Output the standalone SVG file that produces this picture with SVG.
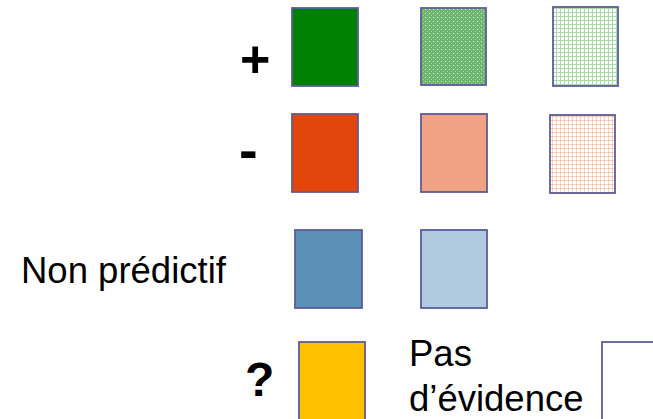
<svg xmlns="http://www.w3.org/2000/svg" width="653" height="419" viewBox="0 0 653 419">
<style>
.box{stroke:#5c5c96;stroke-width:1.8}
.lbl{font-family:"Liberation Sans",Arial,sans-serif;font-size:36.5px;fill:#000}
.sym{font-family:"Liberation Sans",Arial,sans-serif;font-weight:bold;fill:#000}
</style>
<defs>
<pattern id="gdots" width="4" height="4" patternUnits="userSpaceOnUse">
<rect width="4" height="4" fill="#6db66d"/>
<rect x="1" y="1" width="1" height="1" fill="#e6f4e6"/>
<rect x="3" y="3" width="1" height="1" fill="#a6d6a6"/>
</pattern>
<pattern id="ggrid" width="4" height="4" patternUnits="userSpaceOnUse">
<rect width="4" height="4" fill="#ffffff"/>
<rect x="0" y="0" width="4" height="1" fill="#a9d9a9"/>
<rect x="0" y="0" width="1" height="4" fill="#a9d9a9"/>
</pattern>
<pattern id="omed" width="2" height="2" patternUnits="userSpaceOnUse">
<rect width="2" height="2" fill="#ee9c7d"/>
<rect width="1" height="1" fill="#f2a88b"/>
<rect x="1" y="1" width="1" height="1" fill="#f2a88b"/>
</pattern>
<pattern id="ogrid" width="4" height="4" patternUnits="userSpaceOnUse">
<rect width="4" height="4" fill="#ffffff"/>
<rect x="0" y="0" width="4" height="1" fill="#fad3c2"/>
<rect x="0" y="0" width="1" height="4" fill="#fad3c2"/>
<rect x="0" y="0" width="1" height="1" fill="#f2a98b"/>
</pattern>
<pattern id="blight" width="2" height="2" patternUnits="userSpaceOnUse">
<rect width="2" height="2" fill="#aac5db"/>
<rect width="1" height="1" fill="#b6cfe2"/>
<rect x="1" y="1" width="1" height="1" fill="#b6cfe2"/>
</pattern>
</defs>

<g id="label-plus"><text class="sym" x="240" y="77" font-size="52">+</text></g>
<g id="label-minus"><text class="sym" x="239" y="169" font-size="56">-</text></g>
<g id="label-nonpredictif"><text class="lbl" x="21" y="283">Non prédictif</text></g>
<g id="label-question"><text class="sym" x="245" y="396" font-size="48">?</text></g>
<g id="label-pas"><text class="lbl" x="409" y="366">Pas</text><text class="lbl" x="409" y="411">d’évidence</text></g>

<g id="plus-strong"><rect class="box" x="292" y="8" width="66" height="78" fill="#008000"/></g>
<g id="plus-medium"><rect class="box" x="421" y="8" width="65" height="77" fill="url(#gdots)"/></g>
<g id="plus-weak"><rect class="box" x="553" y="7" width="65" height="79" fill="url(#ggrid)"/></g>

<g id="minus-strong"><rect class="box" x="292" y="114" width="66" height="78" fill="#e2460b"/></g>
<g id="minus-medium"><rect class="box" x="421" y="114" width="66" height="78" fill="url(#omed)"/></g>
<g id="minus-weak"><rect class="box" x="550" y="115" width="65" height="78" fill="url(#ogrid)"/></g>

<g id="nonpred-strong"><rect class="box" x="295" y="230" width="67" height="78" fill="#5b90b6"/></g>
<g id="nonpred-weak"><rect class="box" x="421" y="230" width="66" height="78" fill="url(#blight)"/></g>

<g id="unknown"><rect class="box" x="299" y="342" width="66" height="80" fill="#ffc000"/></g>
<g id="no-evidence"><rect class="box" x="602" y="342" width="60" height="80" fill="#ffffff"/></g>

<g id="connectors"></g>
</svg>
